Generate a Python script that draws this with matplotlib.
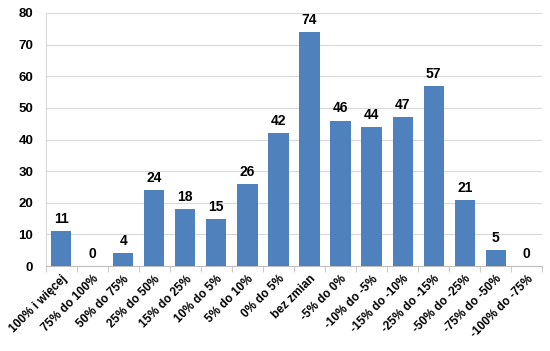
import numpy as np
import matplotlib.pyplot as plt

categories = ["100% i więcej", "75% do 100%", "50% do 75%", "25% do 50%", "15% do 25%",
              "10% do 5%", "5% do 10%", "0% do 5%", "bez zmian", "-5% do 0%",
              "-10% do -5%", "-15% do -10%", "-25% do -15%", "-50% do -25%",
              "-75% do -50%", "-100% do -75%"]
values = [11, 0, 4, 24, 18, 15, 26, 42, 74, 46, 44, 47, 57, 21, 5, 0]

plt.rcParams["font.family"] = ["Liberation Sans", "DejaVu Sans"]
fig = plt.figure(figsize=(5.5, 3.51), dpi=100)
ax = fig.add_axes([0.083, 0.242, 0.903, 0.721])

x = np.arange(len(values))
ax.bar(x, values, width=0.65, color="#4F81BD", zorder=3)
for xi, v in zip(x, values):
    ax.text(xi, v + 1.6, str(v), ha="center", va="bottom", fontsize=10, fontweight="bold")

ax.set_xlim(-0.5, len(values) - 0.5)
ax.set_ylim(0, 80)
ax.set_yticks(range(0, 81, 10))
ax.yaxis.grid(True, color="#D9D9D9", linewidth=0.8, zorder=0)
ax.tick_params(axis="y", length=0, labelsize=9.5, pad=9)
for lab in ax.get_yticklabels():
    lab.set_fontweight("bold")

ax.set_xticks(x)
ax.set_xticklabels(categories, rotation=45, ha="right", rotation_mode="anchor",
                   fontsize=8.5, fontweight="bold")
ax.set_xticks(np.arange(-0.5, len(values)), minor=True)
ax.tick_params(axis="x", which="major", length=0, pad=5)
ax.tick_params(axis="x", which="minor", length=4, color="#BFBFBF")

for s in ["top", "right"]:
    ax.spines[s].set_visible(False)
ax.spines["left"].set_color("#D9D9D9")
ax.spines["bottom"].set_color("#BFBFBF")

fig.savefig("out.png", dpi=100)
